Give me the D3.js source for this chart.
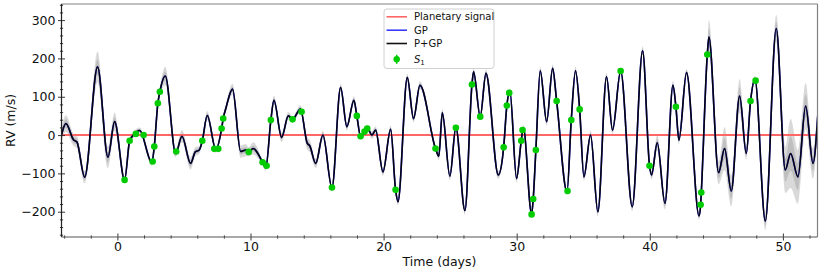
<!DOCTYPE html>
<html><head><meta charset="utf-8">
<script src="https://cdn.jsdelivr.net/npm/d3@7"></script>
<style>
body{margin:0;background:#fff}
svg{display:block;font-family:"DejaVu Sans",sans-serif}
</style>
</head><body><div id="chart"></div>
<script>
// GP prediction knots (time in days, RV in m/s, 1-sigma in m/s)
const knotT = [-4.2,-3.87,-3.3,-3.04,-2.46,-1.49,-0.71,-0.21,0.54,0.92,1.2,1.67,2.59,2.77,3.04,3.19,3.6,4.38,4.85,5.5,5.85,6.15,6.38,6.75,7.4,7.83,7.95,8.15,8.65,9.26,9.65,9.86,10.2,10.91,11.15,11.53,11.76,12.34,12.84,13.16,13.75,14.27,14.45,14.9,15.44,16.12,16.77,17.24,17.77,17.99,18.27,18.8,19.12,19.4,19.95,20.53,20.9,21.08,21.78,22.25,22.73,23.9,24.15,24.41,24.98,25.43,26.11,26.64,26.76,27.26,27.69,28.62,29.02,29.26,29.49,29.99,30.34,30.5,31.12,31.24,31.44,31.77,32.25,32.7,33.0,33.78,34.1,34.42,34.73,35.05,35.55,36.1,36.75,37.2,37.81,38.68,39.46,39.98,40.13,40.56,41.14,41.74,41.96,42.19,42.76,43.7,43.82,43.87,44.32,44.44,45.17,45.62,46.12,46.75,47.25,47.57,47.9,48.68,49.5,50.18,50.58,51.13,51.71,52.26,52.64];
const knotRV = [0,30,-12,-18,-110,178,-58,35,-117,-15,0,12,-72,-30,83,113,154,-48,-3,-74,-44,-39,-15,51,-38,17,43,70,120,-43,-39,-44,-35,-71,-85,39,91,-6,50,41,68,-22,-28,-74,0,-138,124,22,91,50,-3,17,0,13,-96,15,-143,-174,150,43,130,-35,-55,58,-107,20,-197,132,165,48,161,-104,-32,77,114,-113,-15,19,-206,-167,-39,168,35,174,89,-148,39,168,67,-109,0,-200,152,13,167,-187,220,-80,-104,-20,-178,130,74,-13,163,-211,-182,-150,210,256,-98,-35,-146,102,-48,89,145,-224,278,-91,-48,-109,76,-74,61];
const knotSig = [10,11,8,8,8,20,14,12,4,4,4,4,4,4,5,6,12,5,8,8,6,5,4,6,4,4,4,5,7,8,8,6,8,4,4,4,6,6,5,4,5,8,8,6,6,4,5,5,5,4,4,4,5,5,5,5,4,5,5,5,5,4,5,5,5,4,6,4,5,4,5,5,4,4,4,5,4,4,4,4,4,5,5,5,4,4,4,5,4,5,6,6,5,5,4,6,6,4,6,10,8,6,4,6,5,5,4,4,6,22,15,28,20,22,8,4,5,12,18,30,45,35,30,20,15];

// S1 observations
const obsT = [0.54,0.92,1.39,1.97,2.65,2.77,3.04,3.19,4.42,6.38,7.28,7.58,7.83,7.95,9.86,10.91,11.21,11.53,13.16,13.84,16.12,17.99,18.27,18.57,18.77,20.9,23.9,25.43,26.64,27.26,29.02,29.26,29.44,30.34,30.44,31.12,31.24,31.44,33.0,33.82,34.1,34.73,37.81,39.98,41.96,43.82,43.87,44.32,47.57,47.95];
const obsRV = [-117,-15,3,0,-69,-30,83,113,-43,-15,-36,-36,17,43,-44,-71,-80,39,41,61,-137,50,-3,9,17,-143,-35,19,132,48,-32,77,110,-15,13,-207,-167,-39,89,-146,39,67,167,-80,74,-182,-150,210,89,142];

const planetT = [-4.2,52.64];
const planetRV = [0,0];

const xDomain = [-4.2,52.6], yDomain = [-266,342];
const xMajor = [0,10,20,30,40,50];
const yMajor = [-200,-100,0,100,200,300];
const xMinor = d3.range(-4,53,2).filter(v=>!xMajor.includes(v));
const yMinor = d3.range(-260,341,20).filter(v=>!yMajor.includes(v));
const legendLabels = ['Planetary signal','GP','P+GP'];
const legendColors = ['#ff6666','#3b3bff','#111'];

const W=822,H=275, m={t:4,r:4.5,b:38,l:61.5};
const svg=d3.select('#chart').append('svg').attr('width',W).attr('height',H);
const iw=W-m.l-m.r, ih=H-m.t-m.b;
const g=svg.append('g').attr('transform',`translate(${m.l},${m.t})`);
const x=d3.scaleLinear().domain(xDomain).range([0,iw]);
const y=d3.scaleLinear().domain(yDomain).range([ih,0]);

svg.append('defs').append('clipPath').attr('id','clip').append('rect').attr('width',iw).attr('height',ih);
const plot=g.append('g').attr('clip-path','url(#clip)');

const knots=knotT.map((t,i)=>({t,v:knotRV[i],s:knotSig[i]}));
const band=k=>d3.area().x(d=>x(d.t)).y0(d=>y(d.v-k*d.s)).y1(d=>y(d.v+k*d.s)).curve(d3.curveMonotoneX);
plot.append('path').datum(knots).attr('d',band(2)).attr('fill','#888').attr('opacity',0.32);
plot.append('path').datum(knots).attr('d',band(1)).attr('fill','#888').attr('opacity',0.32);

plot.append('path').datum(planetT.map((t,i)=>({t,v:planetRV[i]})))
  .attr('d',d3.line().x(d=>x(d.t)).y(d=>y(d.v))).attr('stroke','#ff6666').attr('stroke-width',2).attr('fill','none');

const line=d3.line().x(d=>x(d.t)).y(d=>y(d.v)).curve(d3.curveMonotoneX);
plot.append('path').datum(knots).attr('d',line).attr('stroke','#3030ff').attr('stroke-width',1.6).attr('fill','none');
plot.append('path').datum(knots).attr('d',line).attr('stroke','#05050d').attr('stroke-width',1.6).attr('fill','none');

plot.selectAll('circle.obs').data(obsT.map((t,i)=>({t,v:obsRV[i]}))).join('circle')
  .attr('class','obs').attr('cx',d=>x(d.t)).attr('cy',d=>y(d.v)).attr('r',3.3).attr('fill','#00cc00');

// ticks (in-out)
function ticks(gen, vals, len, labels, pad){
  const a=gen.tickValues(vals).tickSizeOuter(0);
  const out=g.append('g').call(a.tickSizeInner(len).tickPadding(pad).tickFormat(labels?d3.format('d'):''));
  const inn=g.append('g').call(gen.tickValues(vals).tickSizeInner(-len).tickFormat(''));
  [out,inn].forEach(s=>{s.select('.domain').remove(); s.selectAll('line').attr('stroke','#222').attr('stroke-width',0.9);});
  out.selectAll('text').attr('font-size',12.5).attr('fill','#111').attr('font-family','DejaVu Sans');
  return [out,inn];
}
ticks(d3.axisBottom(x),xMajor,3.5,true,2).forEach(s=>s.attr('transform',`translate(0,${ih})`));
ticks(d3.axisBottom(x),xMinor,1.6,false,0).forEach(s=>s.attr('transform',`translate(0,${ih})`));
ticks(d3.axisLeft(y),yMajor,3.5,true,2.5);
ticks(d3.axisLeft(y),yMinor,1.6,false,0);

// spines
g.append('line').attr('x1',0).attr('x2',iw).attr('y1',0).attr('y2',0).attr('stroke','#808080').attr('stroke-width',1.2);
g.append('line').attr('x1',iw).attr('x2',iw).attr('y1',0).attr('y2',ih).attr('stroke','#808080').attr('stroke-width',1.2);
g.append('line').attr('x1',0).attr('x2',0).attr('y1',0).attr('y2',ih).attr('stroke','#222').attr('stroke-width',1.2);
g.append('line').attr('x1',0).attr('x2',iw).attr('y1',ih).attr('y2',ih).attr('stroke','#555').attr('stroke-width',1.2);

// axis labels
svg.append('text').attr('x',m.l+iw/2).attr('y',266).attr('text-anchor','middle').attr('font-size',12.5).attr('fill','#111').text('Time (days)');
svg.append('text').attr('transform',`translate(15,${m.t+ih/2}) rotate(-90)`).attr('text-anchor','middle').attr('font-size',12.5).attr('fill','#111').text('RV (m/s)');

// legend
const lg=svg.append('g').attr('transform','translate(384,9)');
lg.append('rect').attr('width',110).attr('height',59.5).attr('rx',3).attr('fill','rgba(255,255,255,0.85)').attr('stroke','#d0d0d0').attr('stroke-width',1);
const rowY=[7.8,21.2,34.5,50.3];
legendLabels.forEach((lab,i)=>{
  lg.append('line').attr('x1',2.5).attr('x2',23).attr('y1',rowY[i]).attr('y2',rowY[i]).attr('stroke',legendColors[i]).attr('stroke-width',1.6);
  lg.append('text').attr('x',30).attr('y',rowY[i]+3.6).attr('font-size',10).attr('fill','#111').text(lab);
});
lg.append('line').attr('x1',12.7).attr('x2',12.7).attr('y1',rowY[3]-4.5).attr('y2',rowY[3]+4.5).attr('stroke','#00cc00').attr('stroke-width',1.5);
lg.append('circle').attr('cx',12.7).attr('cy',rowY[3]).attr('r',3.2).attr('fill','#00cc00');
const st=lg.append('text').attr('x',30).attr('y',rowY[3]+3.6).attr('font-size',10).attr('fill','#111');
st.append('tspan').attr('font-style','italic').text('S');
st.append('tspan').attr('font-size',7).attr('dy',2.5).text('1');
</script>
</body></html>
